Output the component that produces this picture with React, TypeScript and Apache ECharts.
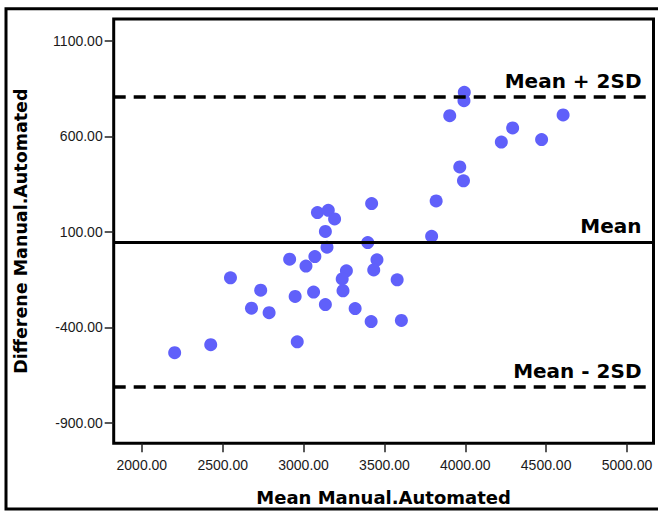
import React, { useEffect, useRef } from "react";
import * as echarts from "echarts";

// Bland–Altman agreement plot: manual vs automated measurement
const meanValues = [
  2203, 2426, 2548, 2735, 2678, 2787, 2914, 2948, 2961, 3015,
  3070, 3062, 3135, 3086, 3153, 3192, 3135, 3145, 3265, 3239,
  3244, 3319, 3421, 3397, 3454, 3434, 3418, 3579, 3605, 3792,
  3820, 3904, 3966, 3989, 3994, 3992, 4223, 4293, 4472, 4605,
];
const diffValues = [
  -532, -490, -140, -205, -299, -323, -43, -238, -475, -79,
  -29, -215, -280, 201, 213, 168, 102, 20, -104, -146,
  -208, -301, 248, 44, -46, -99, -369, -151, -363, 77,
  262, 708, 440, 367, 830, 786, 570, 644, 583, 712,
];

const meanDiff = 47;
const upperLimit = 805;
const lowerLimit = -711;

const xTicks = [2000, 2500, 3000, 3500, 4000, 4500, 5000];
const yTicks = [-900, -400, 100, 600, 1100];

const xTitle = "Mean Manual.Automated";
const yTitle = "Differene Manual.Automated";

const boldFont = "DejaVu Sans";
const tickFont = "Liberation Sans";

export default function App() {
  const ref = useRef<HTMLDivElement>(null);

  useEffect(() => {
    if (!ref.current) return;
    const chart = echarts.init(ref.current, undefined, { renderer: "svg" });

    const points = meanValues.map((m, i) => [m, diffValues[i]]);

    const refLabel = (text: string) => ({
      show: true,
      formatter: text,
      position: "insideEndTop",
      distance: [12, 6],
      color: "#000",
      fontFamily: boldFont,
      fontWeight: "bold",
      fontSize: 20,
    });

    chart.setOption({
      animation: false,
      backgroundColor: "#fff",
      grid: {
        left: 113.7,
        top: 19,
        right: 4.5,
        bottom: 68.7,
        show: true,
        borderColor: "#000",
        borderWidth: 3,
        backgroundColor: "transparent",
      },
      xAxis: {
        type: "value",
        min: 1826,
        max: 5164,
        name: xTitle,
        nameLocation: "middle",
        nameGap: 45,
        nameTextStyle: {
          fontFamily: boldFont,
          fontWeight: "bold",
          fontSize: 18,
          color: "#000",
        },
        axisLine: { show: false, onZero: false },
        splitLine: { show: false },
        axisTick: {
          show: true,
          customValues: xTicks,
          length: 9,
          lineStyle: { color: "#222", width: 1.5 },
        },
        axisLabel: {
          customValues: xTicks,
          formatter: (v: number) => v.toFixed(2),
          margin: 15,
          fontFamily: tickFont,
          fontSize: 14,
          color: "#1a1a1a",
        },
      },
      yAxis: {
        type: "value",
        min: -1006,
        max: 1213.6,
        name: yTitle,
        nameLocation: "middle",
        nameGap: 84,
        nameRotate: 90,
        nameTextStyle: {
          fontFamily: boldFont,
          fontWeight: "bold",
          fontSize: 17.5,
          color: "#000",
        },
        axisLine: { show: false, onZero: false },
        splitLine: { show: false },
        axisTick: {
          show: true,
          customValues: yTicks,
          length: 9,
          lineStyle: { color: "#222", width: 1.5 },
        },
        axisLabel: {
          customValues: yTicks,
          formatter: (v: number) => v.toFixed(2),
          margin: 11,
          fontFamily: tickFont,
          fontSize: 14,
          color: "#1a1a1a",
        },
      },
      graphic: [
        {
          type: "rect",
          shape: { x: 6, y: 8.7, width: 660, height: 500.3 },
          style: { fill: "none", stroke: "#000", lineWidth: 3 },
          silent: true,
          z: 100,
        },
      ],
      series: [
        {
          type: "scatter",
          data: points,
          symbol: "circle",
          symbolSize: 13,
          itemStyle: { color: "#6060fa", opacity: 1 },
          markLine: {
            silent: true,
            symbol: "none",
            animation: false,
            data: [
              {
                yAxis: upperLimit,
                lineStyle: { color: "#000", width: 3.5, type: [12, 8] },
                label: refLabel("Mean + 2SD"),
              },
              {
                yAxis: meanDiff,
                lineStyle: { color: "#000", width: 3, type: "solid" },
                label: refLabel("Mean"),
              },
              {
                yAxis: lowerLimit,
                lineStyle: { color: "#000", width: 3.5, type: [12, 8] },
                label: refLabel("Mean - 2SD"),
              },
            ],
          },
        },
      ],
    });

    return () => chart.dispose();
  }, []);

  return (
    <div
      ref={ref}
      style={{ position: "absolute", left: 0, top: 0, width: 658, height: 512 }}
    />
  );
}
